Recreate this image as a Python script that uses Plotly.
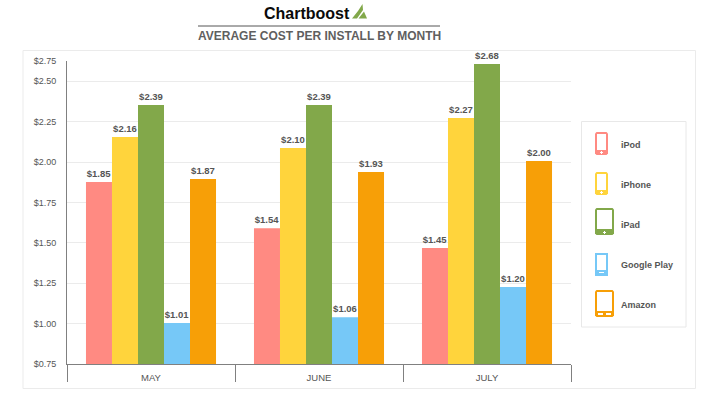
import plotly.graph_objects as go

W, H = 713, 394
L, R, T, B = 67, 571, 61, 364

months = ["MAY", "JUNE", "JULY"]
series_names = ["iPod", "iPhone", "iPad", "Google Play", "Amazon"]
colors = ["#FF8A82", "#FFD43C", "#82A84A", "#76C8F7", "#F79F07"]
ipod = [1.876, 1.59, 1.468]
iphone = [2.155, 2.087, 2.272]
ipad = [2.352, 2.352, 2.607]
google_play = [1.004, 1.04, 1.226]
amazon = [1.895, 1.938, 2.006]
ipod_labels = ["$1.85", "$1.54", "$1.45"]
iphone_labels = ["$2.16", "$2.10", "$2.27"]
ipad_labels = ["$2.39", "$2.39", "$2.68"]
google_play_labels = ["$1.01", "$1.06", "$1.20"]
amazon_labels = ["$1.87", "$1.93", "$2.00"]
tick_vals = [0.75, 1.0, 1.25, 1.5, 1.75, 2.0, 2.25, 2.5, 2.625]
tick_text = ["$0.75", "$1.00", "$1.25", "$1.50", "$1.75", "$2.00", "$2.25", "$2.50", "$2.75"]

values = [ipod, iphone, ipad, google_play, amazon]
labels = [ipod_labels, iphone_labels, ipad_labels, google_play_labels, amazon_labels]

FONT = "Liberation Sans, Arial, sans-serif"
TXT = "#555555"

def px(x):
    return (x - L) / (R - L)

def py(y):
    return (B - y) / (B - T)

fig = go.Figure()
for name, v, lab, c in zip(series_names, values, labels, colors):
    fig.add_trace(go.Bar(
        name=name, x=months, y=v, text=lab, marker=dict(color=c, line=dict(width=0)),
        textposition="outside", cliponaxis=False,
        textfont=dict(family=FONT, size=9.5, color=TXT, weight="bold"),
        hoverinfo="skip",
    ))

shapes = []
annotations = []

def rect(x0, y0, x1, y1, fill=None, line=None, lw=1, layer="above"):
    shapes.append(dict(type="rect", xref="paper", yref="paper", x0=px(x0), x1=px(x1), y0=py(y0), y1=py(y1),
                       fillcolor=fill or "rgba(0,0,0,0)", line=dict(color=line or "rgba(0,0,0,0)", width=lw if line else 0), layer=layer))

def rounded(x0, y0, x1, y1, r, fill):
    p = [(x0 + r, y0), (x1 - r, y0), (x1, y0 + r), (x1, y1 - r), (x1 - r, y1), (x0 + r, y1), (x0, y1 - r), (x0, y0 + r)]
    path = "M " + " L ".join(f"{px(a)},{py(b)}" for a, b in p) + " Z"
    shapes.append(dict(type="path", xref="paper", yref="paper", path=path, fillcolor=fill, line=dict(width=0)))

def text(x, y, s, size, color=TXT, anchor="left", bold=True):
    annotations.append(dict(xref="paper", yref="paper", x=px(x), y=py(y), text=f"<b>{s}</b>" if bold else s,
                            showarrow=False, xanchor=anchor, yanchor="middle",
                            font=dict(family=FONT, size=size, color=color)))

# outer panel and legend box
rect(23, 50.5, 695.5, 388.5, line="#EBEBEB", lw=1, layer="below")
rect(581.5, 121.5, 686, 327, line="#E8E8E8", lw=1, layer="below")

# header
text(307, 13, "Chartboost", 16, color="#0A0A0A", anchor="center")
shapes.append(dict(type="line", xref="paper", yref="paper", x0=px(198), x1=px(440), y0=py(26), y1=py(26),
                   line=dict(color="#555555", width=1)))
text(319, 36, "AVERAGE COST PER INSTALL BY MONTH", 12, color="#5F5F5F", anchor="center")
for pts in ([(352, 18.5), (358, 11), (362.5, 4), (363, 10), (357, 18.5)], [(358.5, 18.5), (364, 11.5), (367, 18.5)]):
    path = "M " + " L ".join(f"{px(a)},{py(b)}" for a, b in pts) + " Z"
    shapes.append(dict(type="path", xref="paper", yref="paper", path=path, fillcolor="#82A84A", line=dict(width=0)))

# legend device icons
devices = [
    (595, 132, 608, 155, 145, "phone"),
    (595, 172, 608, 195, 185, "phone"),
    (595, 208, 614, 235, 225, "tablet"),
    (595, 253, 608, 276, 265, "android"),
    (595, 290, 614, 317, 305, "kindle"),
]
for (x0, y0, x1, y1, ty, kind), c, name in zip(devices, colors, series_names):
    chin = 4 if kind != "tablet" else 5
    if kind == "android":
        rect(x0, y0, x1, y1, fill=c)
        rect(x0 + 2, y0 + 2, x1 - 2, y1 - 6, fill="#FFFFFF")
        rect(x0 + 4, y1 - 4, x1 - 4, y1 - 3, fill="#FFFFFF")
    elif kind == "kindle":
        rounded(x0, y0, x1, y1, 1.5, c)
        rect(x0 + 2, y0 + 2, x1 - 2, y1 - 6, fill="#FFFFFF")
        rect(x0 + 3, y1 - 4, x0 + 8, y1 - 2, fill="#FFFFFF")
        rect(x1 - 8, y1 - 4, x1 - 3, y1 - 2, fill="#FFFFFF")
    else:
        rounded(x0, y0, x1, y1, 1.5, c)
        rect(x0 + 2, y0 + 2, x1 - 2, y1 - chin - 1, fill="#FFFFFF")
        cx = (x0 + x1) / 2
        rect(cx - 1.5, y1 - 3, cx + 1.5, y1 - 2, fill="#FFFFFF")
        rect(cx - 0.5, y1 - 4, cx + 0.5, y1 - 1, fill="#FFFFFF")
    text(619, ty, name, 9)

fig.update_layout(
    width=W, height=H, autosize=False,
    margin=dict(l=L, r=W - R, t=T, b=H - B, pad=0),
    paper_bgcolor="#FFFFFF", plot_bgcolor="#FFFFFF",
    barmode="group", bargap=0.226, bargroupgap=0,
    showlegend=False, shapes=shapes, annotations=annotations,
    font=dict(family=FONT, size=10, color=TXT),
    xaxis=dict(type="category", showgrid=False, tickson="boundaries", ticks="outside", ticklen=17,
               tickcolor="#808080", tickwidth=1, showline=True, linecolor="#808080", linewidth=1,
               ticklabelstandoff=5, tickfont=dict(family=FONT, size=9.5, color=TXT)),
    yaxis=dict(range=[0.75, 2.625], tickmode="array", tickvals=tick_vals, ticktext=tick_text,
               showgrid=True, gridcolor="#EBEBEB", gridwidth=1, zeroline=False,
               showline=True, linecolor="#808080", linewidth=1, ticks="",
               ticklabelstandoff=8, tickfont=dict(family=FONT, size=9, color=TXT)),
)
fig.write_html("out.html", config=dict(displayModeBar=False),
               post_script="document.body.style.margin='0';document.body.style.overflow='hidden';")
